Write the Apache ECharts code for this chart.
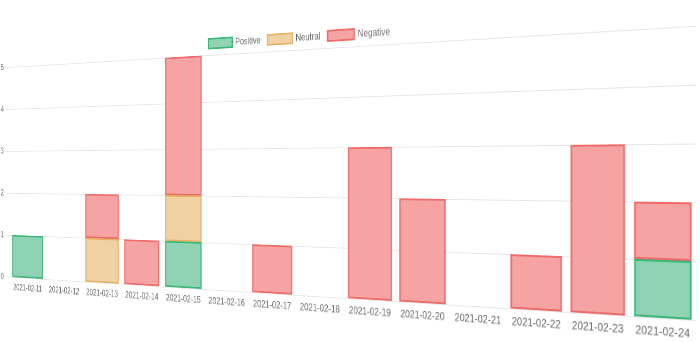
<!DOCTYPE html>
<html><head><meta charset="utf-8">
<script src="https://cdn.jsdelivr.net/npm/echarts@6/dist/echarts.min.js"></script>
<style>
html,body{margin:0;padding:0;width:700px;height:342px;overflow:hidden;background:#fff}
#chart{position:absolute;left:0;top:0;transform-origin:0 0}
</style></head>
<body><div id="chart"></div>
<script>
// ---- data ----
const categories = ['2021-02-11','2021-02-12','2021-02-13','2021-02-14','2021-02-15','2021-02-16','2021-02-17','2021-02-18','2021-02-19','2021-02-20','2021-02-21','2021-02-22','2021-02-23','2021-02-24'];
const positive = [1,0,0,0,1,0,0,0,0,0,0,0,0,1];
const neutral  = [0,0,1,0,1,0,0,0,0,0,0,0,0,0];
const negative = [0,0,1,1,3,0,1,0,3,2,0,1,3,1];
const seriesNames = ['Positive','Neutral','Negative'];
const yMin = 0, yMax = 5, yStep = 1;

// ---- flat layout (before perspective view) ----
const CW = 75, VH = 58, GL = 24, GT = 32, GB = 40, GR = 20;
const N = categories.length;
const W = GL + CW * N + GR, H = GT + VH * (yMax - yMin) + GB;

// ---- perspective view (tilted page) ----
const A = 35.11, B = 27.5, G = -0.020733, P = -3.515, Q = -42.4, R = 278;
const a1 = 1 / CW, a0 = -GL / CW - 0.5, b1 = -1 / VH, b0 = (GT + VH * (yMax - yMin)) / VH;
const D0 = 1 + G * a0;
const h11 = A * a1 / D0, h13 = (A * a0 + B) / D0;
const h21 = P * a1 / D0, h22 = Q * b1 / D0, h23 = (P * a0 + Q * b0 + R) / D0;
const h31 = G * a1 / D0;
const el = document.getElementById('chart');
el.style.width = W + 'px';
el.style.height = H + 'px';
el.style.transform = `matrix3d(${h11},${h21},0,${h31}, 0,${h22},0,0, 0,0,1,0, ${h13},${h23},0,1)`;

const FONT = '"Liberation Sans", Arial, Helvetica, sans-serif';
const GRID_COLOR = '#e5e5e5';
const fills = ['#8fd3b4', '#efd1a3', '#f5a3a3'];
const borders = ['#3ab77a', '#e6b366', '#ef6a6a'];
const vals = [positive, neutral, negative];

const chart = echarts.init(el, null, {renderer: 'canvas', devicePixelRatio: 2});
chart.setOption({
  animation: false,
  backgroundColor: '#fff',
  textStyle: {fontFamily: FONT},
  legend: {
    data: seriesNames,
    left: GL + 5.08 * CW, top: 11,
    icon: 'rect', itemWidth: 40, itemHeight: 12, itemGap: 10, padding: 0,
    textStyle: {color: '#666', fontSize: 12, fontFamily: FONT}
  },
  grid: {left: GL, top: GT, width: CW * N, height: VH * (yMax - yMin), outerBoundsMode: 'none', containLabel: false},
  xAxis: {
    type: 'category', data: categories,
    axisLine: {show: true, lineStyle: {color: GRID_COLOR, width: 1}},
    axisTick: {show: false},
    splitLine: {show: false},
    axisLabel: {color: '#666', fontSize: 12, fontFamily: FONT, margin: 8, interval: 0}
  },
  yAxis: {
    type: 'value', min: yMin, max: yMax, interval: yStep,
    axisLine: {show: true, lineStyle: {color: GRID_COLOR}},
    axisTick: {show: true, length: 10, lineStyle: {color: GRID_COLOR}},
    splitLine: {show: true, lineStyle: {color: GRID_COLOR}},
    axisLabel: {color: '#666', fontSize: 12, fontFamily: FONT, margin: 13}
  },
  series: seriesNames.map((name, k) => ({
    name, type: 'bar', stack: 'total', barWidth: '86%',
    z: 4 - k,
    itemStyle: {color: fills[k], borderColor: borders[k], borderWidth: 2},
    emphasis: {disabled: true},
    data: vals[k].map(v => v === 0 ? '-' : v)
  }))
});
</script>
</body></html>
